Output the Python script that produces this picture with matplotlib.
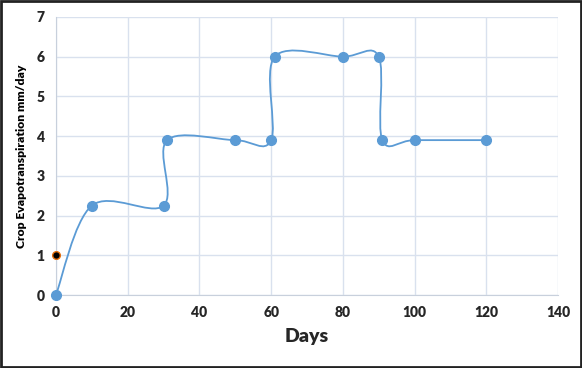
import matplotlib
matplotlib.use('Agg')
import matplotlib.pyplot as plt
from matplotlib.path import Path
from matplotlib.patches import PathPatch, Rectangle

days = [0, 10, 30, 31, 50, 60, 61, 80, 90, 91, 100, 120]
etc = [0, 2.25, 2.25, 3.9, 3.9, 3.9, 6, 6, 6, 3.9, 3.9, 3.9]
extra_day = [0]
extra_etc = [1]
x_ticks = [0, 20, 40, 60, 80, 100, 120, 140]
y_ticks = [0, 1, 2, 3, 4, 5, 6, 7]

line_col = '#5b9bd5'
grid_col = '#d9e1ee'
text_col = '#262626'

plt.rcParams['font.family'] = ['Lato', 'DejaVu Sans']

fig = plt.figure(figsize=(5.82, 3.68), dpi=100)
ax = fig.add_axes([0.096, 0.198, 0.863, 0.756])

# smoothed line like excel (catmull-rom as bezier)
verts = [(days[0], etc[0])]
codes = [Path.MOVETO]
n = len(days)
for i in range(n - 1):
    p0 = (days[max(i - 1, 0)], etc[max(i - 1, 0)])
    p1 = (days[i], etc[i])
    p2 = (days[i + 1], etc[i + 1])
    p3 = (days[min(i + 2, n - 1)], etc[min(i + 2, n - 1)])
    c1 = (p1[0] + (p2[0] - p0[0]) / 6, p1[1] + (p2[1] - p0[1]) / 6)
    c2 = (p2[0] - (p3[0] - p1[0]) / 6, p2[1] - (p3[1] - p1[1]) / 6)
    verts += [c1, c2, p2]
    codes += [Path.CURVE4] * 3
ax.add_patch(PathPatch(Path(verts, codes), facecolor='none', edgecolor=line_col, lw=1.3, zorder=3))
ax.plot(days, etc, 'o', color=line_col, ms=7, zorder=4, clip_on=False)
ax.plot(extra_day, extra_etc, 'o', color='black', mec='#e36c09', mew=1, ms=5.5, zorder=5, clip_on=False)

ax.set_xlim(0, 140)
ax.set_ylim(0, 7)
ax.set_xticks(x_ticks)
ax.set_yticks(y_ticks)
ax.grid(True, color=grid_col, lw=1)
ax.set_axisbelow(True)
for s in ['top', 'right']:
    ax.spines[s].set_visible(False)
for s in ['left', 'bottom']:
    ax.spines[s].set_color('#c8d0dc')
ax.tick_params(length=0, pad=8, labelsize=10, labelcolor=text_col)
for lab in ax.get_xticklabels() + ax.get_yticklabels():
    lab.set_fontweight('heavy')
ax.set_xlabel('Days', fontsize=14, fontweight='heavy', color=text_col, labelpad=6)
ax.set_ylabel('Crop Evapotranspiration mm/day', fontsize=8.7, fontweight='heavy', color='black', labelpad=7)

fig.patches.append(Rectangle((0.002, 0.003), 0.996, 0.994, transform=fig.transFigure,
                             fill=False, edgecolor='#222222', lw=2))
fig.savefig('out.png', dpi=100)
